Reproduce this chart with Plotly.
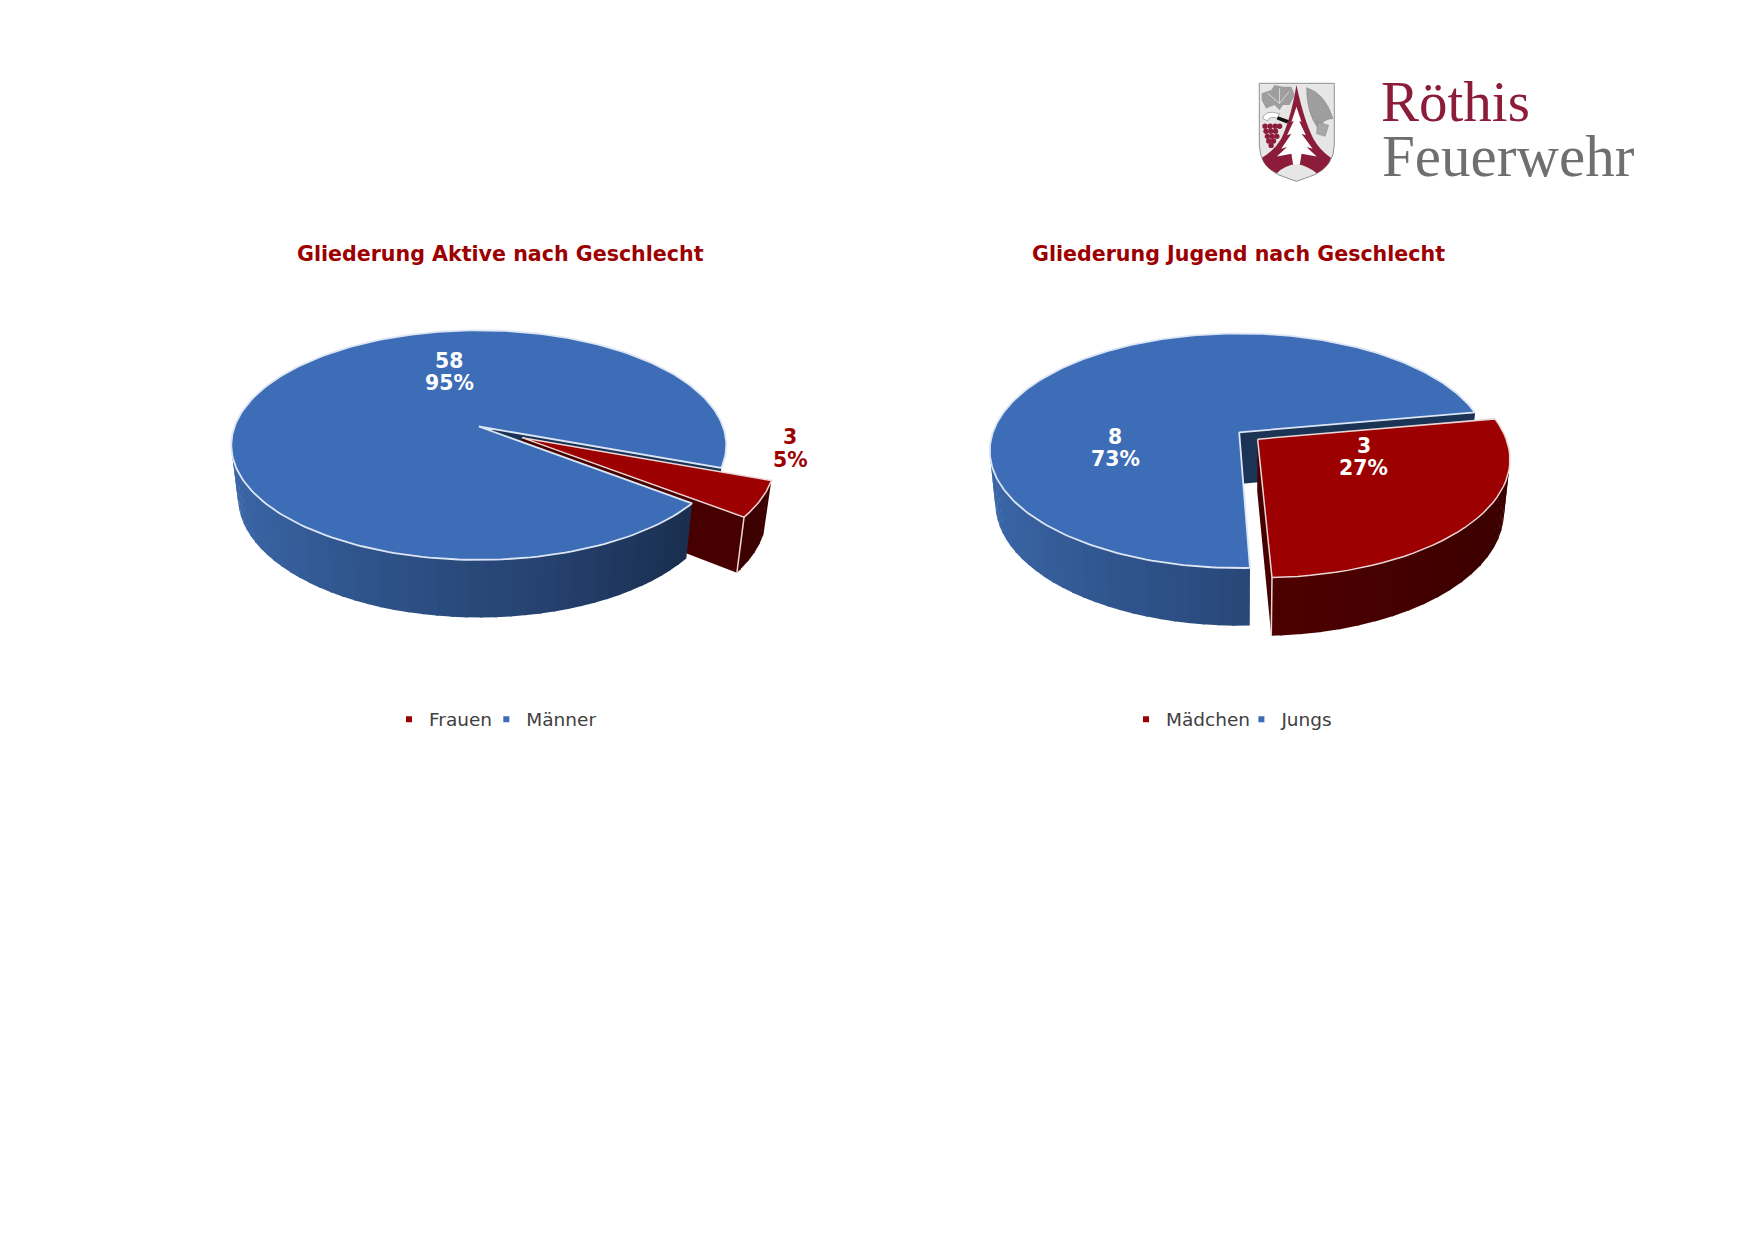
import re
import numpy as np
import plotly.graph_objects as go

# ---- data -----------------------------------------------------------
active_labels = ["Frauen", "Männer"]
active_values = [3, 58]
youth_labels = ["Mädchen", "Jungs"]
youth_values = [3, 8]
active_title = "Gliederung Aktive nach Geschlecht"
youth_title = "Gliederung Jugend nach Geschlecht"

RED_TOP = "#9C0000"
BLUE_TOP = "#3E6DB8"
NAVY = "#1B3354"
FONT = "DejaVu Sans"

fig = go.Figure()


def lerp_colour(stops, t):
    xs = [s[0] for s in stops]
    r = np.interp(t, xs, [s[1][0] for s in stops])
    g = np.interp(t, xs, [s[1][1] for s in stops])
    b = np.interp(t, xs, [s[1][2] for s in stops])
    return f"rgb({int(r)},{int(g)},{int(b)})"


BLUE_WALL = [(-1, (60, 104, 170)), (-0.3, (46, 82, 136)), (0.25, (38, 66, 112)), (0.8, (26, 47, 79))]
RED_WALL = [(-1, (92, 0, 0)), (0.2, (76, 0, 0)), (1, (58, 0, 0))]


class Pie:
    def __init__(self, cx, ay, d, a, c, depth, sx, sy, start, explode):
        self.__dict__.update(locals())

    def top(self, u, v):
        k = 1 + self.c * v
        return self.cx + self.d * u / k, self.ay + self.a * v / k

    def bottom(self, u, v):
        k = 1 + self.c * v
        return self.cx + self.sx * self.d * u / k, self.ay + self.depth + self.sy * self.a * v / k


def poly(xs, ys, fill, line=None, width=0, name=None):
    fig.add_trace(go.Scatter(
        x=list(xs), y=list(ys), mode="lines", fill="toself", fillcolor=fill,
        line=dict(color=line or fill, width=width if line else 0),
        hoverinfo="text" if name else "skip", text=name, showlegend=False))


def draw_pie(p, labels, values):
    total = sum(values)
    sweep = 360.0 * values[0] / total
    s0, s1 = p.start, p.start + sweep
    mid = np.radians((s0 + s1) / 2)
    eu, ev = p.explode * np.cos(mid), p.explode * np.sin(mid)

    def unit(deg, off=False):
        t = np.radians(deg)
        return (np.cos(t) + (eu if off else 0), np.sin(t) + (ev if off else 0))

    # blue wall behind the gap: arc between east and slice start, then the far cut face
    for a1, a2 in [(max(-90, min(0, s0 - 1)), s0)]:
        angs = np.linspace(a1, a2, 12)
        uv = [unit(x) for x in angs]
        tx, ty = zip(*[p.top(*q) for q in uv])
        bx, by = zip(*[p.bottom(*q) for q in uv])
        poly(list(tx) + list(bx)[::-1], list(ty) + list(by)[::-1], NAVY)
    cu, cv = unit(s0)
    xs = [p.top(0, 0)[0], p.top(cu, cv)[0], p.bottom(cu, cv)[0], p.bottom(0, 0)[0]]
    ys = [p.top(0, 0)[1], p.top(cu, cv)[1], p.bottom(cu, cv)[1], p.bottom(0, 0)[1]]
    poly(xs, ys, NAVY)

    # exploded slice: near radial wall, outer wall, top
    ox, oy = eu, ev
    cu, cv = unit(s1, True)
    xs = [p.top(ox, oy)[0], p.top(cu, cv)[0], p.bottom(cu, cv)[0], p.bottom(ox, oy)[0]]
    ys = [p.top(ox, oy)[1], p.top(cu, cv)[1], p.bottom(cu, cv)[1], p.bottom(ox, oy)[1]]
    poly(xs, ys, "#470000")
    steps = np.arange(s0, s1, 4.0)
    for a in steps:
        b = min(a + 4.5, s1)
        angs = np.linspace(a, b, 4)
        uv = [unit(x, True) for x in angs]
        tx, ty = zip(*[p.top(*q) for q in uv])
        bx, by = zip(*[p.bottom(*q) for q in uv])
        poly(list(tx) + list(bx)[::-1], list(ty) + list(by)[::-1],
             lerp_colour(RED_WALL, np.cos(np.radians(a))))
    angs = np.linspace(s0, s1, 40)
    uv = [unit(x, True) for x in angs]
    tx, ty = zip(*[p.top(*q) for q in uv])
    ax0, ay0 = p.top(ox, oy)
    poly([ax0] + list(tx) + [ax0], [ay0] + list(ty) + [ay0], RED_TOP, "#EBD6D6", 1.5,
         f"{labels[0]}: {values[0]}")
    cu, cv = unit(s1, True)
    fig.add_trace(go.Scatter(
        x=[p.top(cu, cv)[0], p.bottom(cu, cv)[0]], y=[p.top(cu, cv)[1], p.bottom(cu, cv)[1]],
        mode="lines", line=dict(color="#EBD6D6", width=1.5), hoverinfo="skip", showlegend=False))

    # blue outer wall
    steps = np.arange(s1, 180.0, 3.0)
    for a in steps:
        b = min(a + 3.5, 180.0)
        angs = np.linspace(a, b, 4)
        uv = [unit(x) for x in angs]
        tx, ty = zip(*[p.top(*q) for q in uv])
        bx, by = zip(*[p.bottom(*q) for q in uv])
        poly(list(tx) + list(bx)[::-1], list(ty) + list(by)[::-1],
             lerp_colour(BLUE_WALL, np.cos(np.radians(a))))
    # blue top
    angs = np.linspace(s1, s0 + 360, 240)
    uv = [unit(x) for x in angs]
    tx, ty = zip(*[p.top(*q) for q in uv])
    ax0, ay0 = p.top(0, 0)
    poly([ax0] + list(tx) + [ax0], [ay0] + list(ty) + [ay0], BLUE_TOP, "#DCE6F4", 1.8,
         f"{labels[1]}: {values[1]}")


def pct(values, i):
    return f"{round(100 * values[i] / sum(values))}%"


left = Pie(cx=478.8, ay=426.5, d=244.2, a=111.8, c=-0.162, depth=51.6, sx=0.973, sy=1.045, start=20.5, explode=0.2)
right = Pie(cx=1239.2, ay=432.3, d=246.3, a=114.4, c=-0.157, depth=51.6, sx=0.978, sy=1.045, start=-10.3, explode=0.095)
draw_pie(left, active_labels, active_values)
draw_pie(right, youth_labels, youth_values)

annotations = []


def note(x, y, text, size, colour, bold=True, family=FONT, anchor="center", yanchor="middle"):
    annotations.append(dict(
        x=x, y=y, xref="x", yref="y", text=f"<b>{text}</b>" if bold else text, showarrow=False,
        font=dict(family=family, size=size, color=colour), xanchor=anchor, yanchor=yanchor))


def data_label(x, y, value, percent, colour):
    note(x, y - 11.2, str(value), 20.4, colour)
    note(x, y + 11.2, percent, 20.4, colour)


data_label(449, 371.8, active_values[1], pct(active_values, 1), "#FFFFFF")
data_label(790, 448.4, active_values[0], pct(active_values, 0), RED_TOP)
data_label(1115.3, 447.8, youth_values[1], pct(youth_values, 1), "#FFFFFF")
data_label(1363.6, 456.8, youth_values[0], pct(youth_values, 0), "#FFFFFF")
note(500.6, 253.6, active_title, 20.6, RED_TOP)
note(1238.9, 253.6, youth_title, 20.6, RED_TOP)

# logo lettering
note(1379, 101, "Röthis", 57, "#8C1D3A", bold=False, family="Liberation Serif", anchor="left")
note(1380, 156, "Feuerwehr", 59, "#6F6F6F", bold=False, family="Liberation Serif", anchor="left")


# ---- logo shield -----------------------------------------------------
def lx(z):
    return 1259.3 + (z - 180) / 222 * 75


def ly(z):
    return 83.3 + (z - 100) / 292 * 98


def lpath(spec):
    isx = True

    def rep(m):
        nonlocal isx
        v = float(m.group(0))
        r = lx(v) if isx else ly(v)
        isx = not isx
        return f"{r:.2f}"
    return re.sub(r"\d+(\.\d+)?", rep, spec)


def logo(spec, fill, line=None, width=0):
    shapes.append(dict(type="path", path=lpath(spec), xref="x", yref="y", fillcolor=fill,
                       line=dict(color=line or fill, width=width), layer="above"))


shapes = []
logo("M180 100 L402 100 L402 285 Q400 345 345 372 Q310 385 290 392 Q270 385 235 372 Q182 345 180 285 Z",
     "#E6E6E6", "#8F8F8F", 1)
logo("M290 105 Q312 210 340 265 Q360 300 392 322 Q385 350 350 368 Q320 345 290 340 Q255 345 232 368 "
     "Q195 350 188 322 Q225 300 245 265 Q272 210 290 105 Z", "#8C1D3A")
logo("M290 170 L305 215 L298 212 L318 255 L305 250 L338 295 L320 290 L350 318 L305 310 L300 342 L280 342 "
     "L275 310 L232 318 L262 290 L245 295 L275 250 L262 255 L282 212 L275 215 Z", "#FFFFFF")
logo("M187 130 L215 120 L225 105 L250 110 L275 110 L285 135 L270 165 L250 165 L240 180 L225 165 L200 175 "
     "L187 150 Z", "#9E9E9E")
logo("M205 130 L240 160 M240 115 L240 160 M268 125 L240 160", "rgba(0,0,0,0)", "#E6E6E6", 0.8)
logo("M190 205 Q195 178 240 190 L235 205 Q210 195 205 212 Z", "#FFFFFF", "#8F8F8F", 0.7)
logo("M235 198 L268 210 L262 220 L232 208 Z", "#111111")
logo("M320 113 Q375 130 398 205 Q370 205 355 235 Q320 190 320 113 Z", "#9E9E9E", "#808080", 0.5)
logo("M352 215 L385 225 L375 258 L350 250 Z", "#A8A8A8", "#808080", 0.5)
for row_y, row_x in [(228, [197, 212, 227, 240]), (243, [200, 214, 228]), (258, [204, 218, 232]),
                     (272, [208, 222]), (285, [215])]:
    for gx in row_x:
        shapes.append(dict(type="circle", xref="x", yref="y", x0=lx(gx - 8), x1=lx(gx + 8),
                           y0=ly(row_y - 8), y1=ly(row_y + 8), fillcolor="#8C1D3A",
                           line=dict(width=0), layer="above"))


# ---- legends: one per entry, so each label sits where the reference has it
legend_x = {"legend": 389.0, "legend2": 486.3, "legend3": 1126.0, "legend4": 1241.4}


def legend_entry(name, colour, legend_id):
    fig.add_trace(go.Scatter(
        x=[None], y=[None], mode="markers", name=name, legend=legend_id,
        marker=dict(symbol="square", size=6, color=colour)))


def legend_layout(x):
    return dict(x=x / 1754, y=1 - 719.6 / 1239, xanchor="left", yanchor="middle", orientation="h",
                bgcolor="rgba(0,0,0,0)", font=dict(family=FONT, size=18.5, color="#404040"),
                itemclick=False, itemdoubleclick=False, itemwidth=30, traceorder="normal")


legend_entry(active_labels[0], RED_TOP, "legend")
legend_entry(active_labels[1], BLUE_TOP, "legend2")
legend_entry(youth_labels[0], RED_TOP, "legend3")
legend_entry(youth_labels[1], BLUE_TOP, "legend4")

fig.update_layout(
    width=1754, height=1239, margin=dict(l=0, r=0, t=0, b=0),
    paper_bgcolor="#FFFFFF", plot_bgcolor="#FFFFFF", showlegend=True,
    xaxis=dict(range=[0, 1754], visible=False, fixedrange=True),
    yaxis=dict(range=[1239, 0], visible=False, fixedrange=True),
    annotations=annotations, shapes=shapes,
    **{k: legend_layout(v) for k, v in legend_x.items()},
)

fig.write_html("out.html", config={"displayModeBar": False},
               post_script="document.body.style.margin='0';document.body.style.overflow='hidden';")
